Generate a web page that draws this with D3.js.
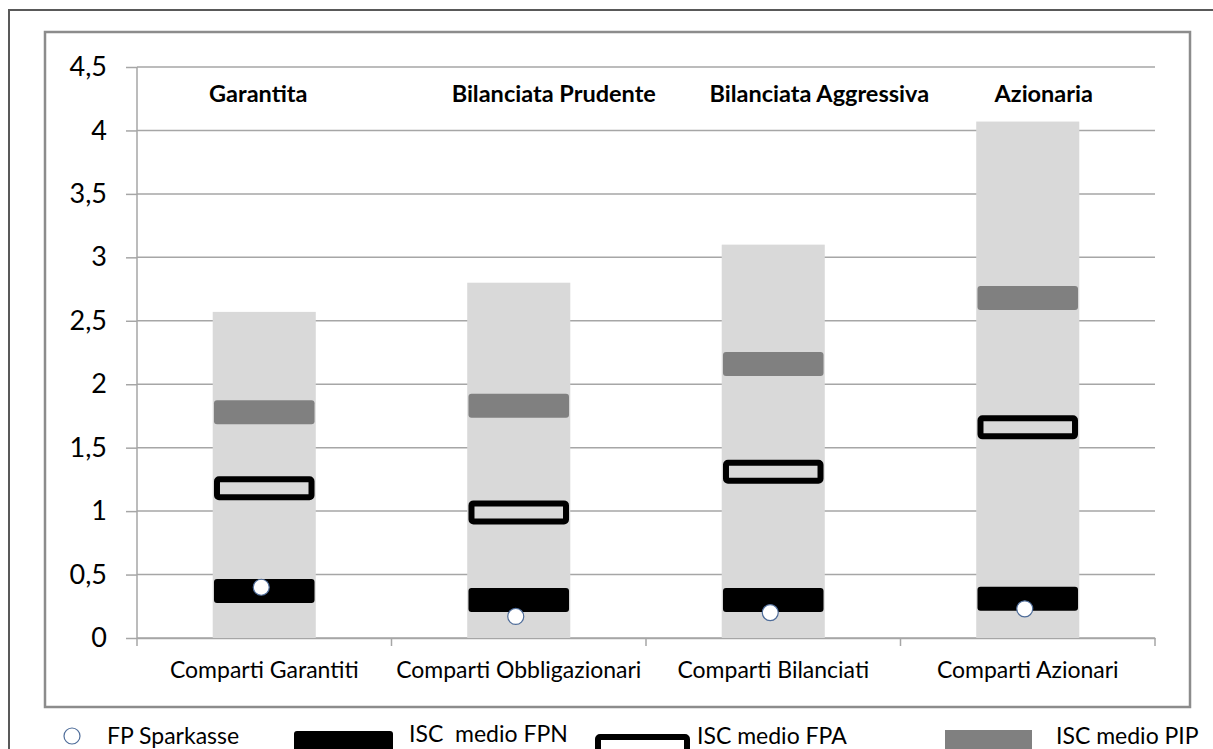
<!DOCTYPE html>
<html>
<head>
<meta charset="utf-8">
<script src="https://cdn.jsdelivr.net/npm/d3@7"></script>
<style>
    body { margin: 0; background: #fff; }
    svg { display: block; font-family: Lato, "Open Sans", sans-serif; }
</style>
</head>
<body>
<svg id="chart" width="1213" height="749"></svg>
<script>
// categories and headers
const categories = ['Comparti Garantiti', 'Comparti Obbligazionari', 'Comparti Bilanciati', 'Comparti Azionari'];
const headers = ['Garantita', 'Bilanciata Prudente', 'Bilanciata Aggressiva', 'Azionaria'];

// series values
const rangeMax = [2.57, 2.80, 3.10, 4.07];     // light grey bars
const iscPIP = [1.78, 1.83, 2.16, 2.68];
const iscFPA = [1.18, 0.99, 1.31, 1.66];
const iscFPN = [0.37, 0.30, 0.30, 0.31];
const fpSparkasse = [0.40, 0.17, 0.20, 0.23];

// y axis ticks
const yTicks = [0, 0.5, 1, 1.5, 2, 2.5, 3, 3.5, 4, 4.5];
const yTickLabels = ['0', '0,5', '1', '1,5', '2', '2,5', '3', '3,5', '4', '4,5'];

// header label shift from band centre (text boxes in the original are not centred)
const headerShift = [-6, 35, 46, 16];

const svg = d3.select('#chart');

// outer frame and chart frame
svg.append('rect')
    .attr('x', 9).attr('y', 10).attr('width', 1230).attr('height', 760)
    .attr('fill', 'none').attr('stroke', '#595959').attr('stroke-width', 2);
svg.append('rect')
    .attr('x', 45).attr('y', 32).attr('width', 1145).attr('height', 675)
    .attr('fill', '#fff').attr('stroke', '#8c8c8c').attr('stroke-width', 2.5);

const plot = {left: 137, right: 1155, top: 67, bottom: 638};

const x = d3.scaleBand()
    .domain(categories)
    .range([plot.left, plot.right])
    .paddingInner(0).paddingOuter(0);

const y = d3.scaleLinear()
    .domain([0, 4.5])
    .range([plot.bottom, plot.top]);

const bw = x.bandwidth();
const barW = bw * 0.405;
const markW = bw * 0.395;
const markH = 24;

// gridlines
svg.append('g')
    .selectAll('line')
    .data(yTicks)
    .enter()
    .append('line')
    .attr('x1', plot.left).attr('x2', plot.right)
    .attr('y1', (d) => y(d)).attr('y2', (d) => y(d))
    .attr('stroke', '#a6a6a6').attr('stroke-width', 1.5);

// y axis
const yAxis = d3.axisLeft(y)
    .tickValues(yTicks)
    .tickFormat((d, i) => yTickLabels[i])
    .tickSize(11)
    .tickPadding(19);

const gy = svg.append('g')
    .attr('transform', `translate(${plot.left},0)`)
    .call(yAxis);
gy.select('.domain').attr('stroke', '#a6a6a6').attr('stroke-width', 1.5)
    .attr('d', `M0,${plot.top}V${plot.bottom + 8}`);
gy.selectAll('.tick line').attr('stroke', '#a6a6a6').attr('stroke-width', 1.5);
gy.selectAll('.tick text')
    .attr('fill', '#000')
    .style('font-size', '27px')
    .style('font-family', 'Lato, sans-serif');

// x axis
const xAxis = d3.axisBottom(x).tickSize(0).tickPadding(24);
const gx = svg.append('g')
    .attr('transform', `translate(0,${plot.bottom})`)
    .call(xAxis);
gx.select('.domain').attr('stroke', '#a6a6a6').attr('stroke-width', 1.5);
gx.selectAll('.tick text')
    .attr('fill', '#000')
    .style('font-size', '23px')
    .style('font-family', 'Lato, sans-serif');

// category separators on x axis
svg.append('g')
    .selectAll('line')
    .data(categories.slice(1))
    .enter()
    .append('line')
    .attr('x1', (d) => x(d)).attr('x2', (d) => x(d))
    .attr('y1', plot.bottom).attr('y2', plot.bottom + 8)
    .attr('stroke', '#a6a6a6').attr('stroke-width', 1.5);
svg.append('line')
    .attr('x1', plot.right).attr('x2', plot.right)
    .attr('y1', plot.bottom).attr('y2', plot.bottom + 8)
    .attr('stroke', '#a6a6a6').attr('stroke-width', 1.5);

const cx = (i) => x(categories[i]) + bw / 2;

// range bars
svg.append('g')
    .selectAll('rect')
    .data(rangeMax)
    .enter()
    .append('rect')
    .attr('x', (d, i) => cx(i) - barW / 2)
    .attr('y', (d) => y(d))
    .attr('width', barW)
    .attr('height', (d) => y(0) - y(d))
    .attr('fill', '#d9d9d9');

// PIP markers
svg.append('g')
    .selectAll('rect')
    .data(iscPIP)
    .enter()
    .append('rect')
    .attr('x', (d, i) => cx(i) - markW / 2)
    .attr('y', (d) => y(d) - markH / 2)
    .attr('width', markW).attr('height', markH)
    .attr('rx', 3)
    .attr('fill', '#808080');

// FPA markers
svg.append('g')
    .selectAll('rect')
    .data(iscFPA)
    .enter()
    .append('rect')
    .attr('x', (d, i) => cx(i) - markW / 2 + 3)
    .attr('y', (d) => y(d) - markH / 2 + 3)
    .attr('width', markW - 6).attr('height', markH - 6)
    .attr('rx', 2)
    .attr('fill', 'none')
    .attr('stroke', '#000').attr('stroke-width', 6);

// FPN markers
svg.append('g')
    .selectAll('rect')
    .data(iscFPN)
    .enter()
    .append('rect')
    .attr('x', (d, i) => cx(i) - markW / 2)
    .attr('y', (d) => y(d) - markH / 2)
    .attr('width', markW).attr('height', markH)
    .attr('rx', 3)
    .attr('fill', '#000');

// FP Sparkasse points
svg.append('g')
    .selectAll('circle')
    .data(fpSparkasse)
    .enter()
    .append('circle')
    .attr('cx', (d, i) => cx(i) - 3)
    .attr('cy', (d) => y(d))
    .attr('r', 8)
    .attr('fill', '#fff')
    .attr('stroke', '#4f6d9a').attr('stroke-width', 1.2);

// headers
svg.append('g')
    .selectAll('text')
    .data(headers)
    .enter()
    .append('text')
    .attr('x', (d, i) => cx(i) + headerShift[i])
    .attr('y', 102)
    .attr('text-anchor', 'middle')
    .style('font-size', '23.5px')
    .style('font-weight', 'bold')
    .text((d) => d);

// legend (the original is cut at the bottom edge of the picture)
const legend = svg.append('g');
legend.append('circle')
    .attr('cx', 72).attr('cy', 736).attr('r', 8)
    .attr('fill', '#fff').attr('stroke', '#4f6d9a').attr('stroke-width', 1.2);
legend.append('rect')
    .attr('x', 294).attr('y', 731).attr('width', 99).attr('height', 30).attr('rx', 3)
    .attr('fill', '#000');
legend.append('rect')
    .attr('x', 598).attr('y', 737).attr('width', 89).attr('height', 30).attr('rx', 2)
    .attr('fill', 'none').attr('stroke', '#000').attr('stroke-width', 6);
legend.append('rect')
    .attr('x', 945).attr('y', 730).attr('width', 87).attr('height', 30)
    .attr('fill', '#808080');

const legendText = [
    {t: 'FP Sparkasse', x: 107, y: 744},
    {t: 'ISC  medio FPN', x: 409, y: 742},
    {t: 'ISC medio FPA', x: 697, y: 744},
    {t: 'ISC medio PIP', x: 1056, y: 744}
];
legend.selectAll('text')
    .data(legendText)
    .enter()
    .append('text')
    .attr('x', (d) => d.x).attr('y', (d) => d.y)
    .style('font-size', '23px')
    .style('white-space', 'pre')
    .text((d) => d.t);
</script>
</body>
</html>
